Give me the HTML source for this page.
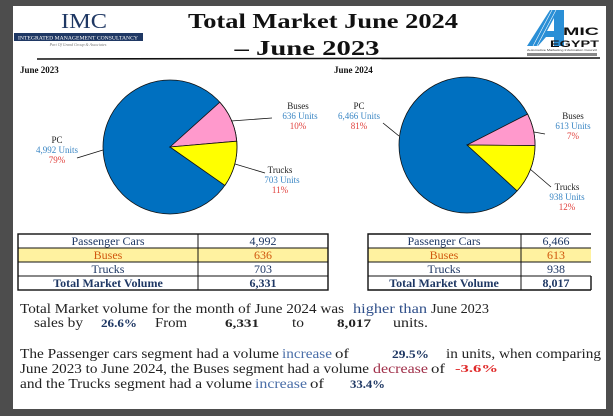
<!DOCTYPE html>
<html><head><meta charset="utf-8"><style>
html,body{margin:0;padding:0;background:#4d4d4d;}
svg{display:block;font-family:"Liberation Serif",serif;}
</style></head><body>
<svg width="613" height="416" viewBox="0 0 613 416" xmlns="http://www.w3.org/2000/svg">
<rect x="0" y="0" width="613" height="416" fill="#4d4d4d"/>
<rect x="13" y="6" width="593" height="403" fill="#fff"/>
<!-- IMC logo -->
<text x="84" y="28" text-anchor="middle" font-size="21" fill="#1f3864" textLength="46" lengthAdjust="spacingAndGlyphs">IMC</text>
<rect x="14" y="33" width="129" height="8" fill="#1f3864"/>
<text x="78" y="39.5" text-anchor="middle" font-size="5" fill="#fff" textLength="120" lengthAdjust="spacingAndGlyphs">INTEGRATED MANAGEMENT CONSULTANCY</text>
<text x="78" y="46" text-anchor="middle" font-size="4" font-style="italic" fill="#777">Part Of Grand Group &amp; Associates</text>
<!-- Title -->
<text x="323" y="28" text-anchor="middle" font-size="21" font-weight="bold" fill="#111" textLength="270" lengthAdjust="spacingAndGlyphs">Total Market June 2024</text>
<text x="307" y="55" text-anchor="middle" font-size="21" font-weight="bold" fill="#111" textLength="145" lengthAdjust="spacingAndGlyphs">– June 2023</text>
<line x1="37" y1="59" x2="600" y2="58" stroke="#111" stroke-width="1.6"/>
<!-- AMIC logo -->
<g fill="#2a8fd6">
<polygon points="550,10 564,10 564,46 554,46 554,37 546,37 538,46 527,46"/>
</g>
<polygon points="554,18 554,31 547,31" fill="#fff"/>
<g stroke="#fff" stroke-width="0.6">
<line x1="533" y1="46" x2="552" y2="10"/>
<line x1="537" y1="46" x2="556" y2="10"/>
</g>
<text x="563" y="35" font-size="11" font-weight="bold" font-family="Liberation Sans,sans-serif" fill="#111" textLength="36" lengthAdjust="spacingAndGlyphs">MIC</text>
<text x="550" y="47" font-size="9" font-weight="bold" font-family="Liberation Sans,sans-serif" fill="#111" textLength="49" lengthAdjust="spacingAndGlyphs">EGYPT</text>
<text x="527" y="51" font-size="3" font-family="Liberation Sans,sans-serif" fill="#333" textLength="70" lengthAdjust="spacingAndGlyphs">Automotive Marketing Information Council</text>
<rect x="527" y="53" width="70" height="3" fill="#888"/>
<!-- section labels -->
<text x="20" y="73" font-size="9" font-weight="bold" fill="#111">June 2023</text>
<text x="334" y="73" font-size="9" font-weight="bold" fill="#111">June 2024</text>
<!-- Pie 1 -->
<g stroke="#111" stroke-width="0.8">
<circle cx="170" cy="147" r="67" fill="#0070c0"/>
<path d="M170,147 L219.8,102.2 A67,67 0 0 1 236.7,141.2 Z" fill="#ff99cc"/>
<path d="M170,147 L236.7,141.2 A67,67 0 0 1 224.9,185.4 Z" fill="#ffff00"/>
<line x1="77" y1="158" x2="103" y2="150"/>
<line x1="231" y1="121" x2="272" y2="118"/>
<line x1="235" y1="164" x2="265" y2="173"/>
</g>
<g font-size="9" text-anchor="middle">
<text x="57" y="143" fill="#222">PC</text>
<text x="57" y="153" fill="#3a86c4">4,992 Units</text>
<text x="57" y="163" fill="#e0403c">79%</text>
<text x="298" y="109" fill="#222">Buses</text>
<text x="300" y="119" fill="#3a86c4">636  Units</text>
<text x="298" y="129" fill="#e0403c">10%</text>
<text x="280" y="173" fill="#222">Trucks</text>
<text x="282" y="183" fill="#3a86c4">703 Units</text>
<text x="280" y="193" fill="#e0403c">11%</text>
</g>
<!-- Pie 2 -->
<g stroke="#111" stroke-width="0.8">
<circle cx="467" cy="145" r="68" fill="#0070c0"/>
<path d="M467,145 L527.6,114.1 A68,68 0 0 1 535,145.6 Z" fill="#ff99cc"/>
<path d="M467,145 L535,145.6 A68,68 0 0 1 517.1,190.9 Z" fill="#ffff00"/>
<line x1="383" y1="123" x2="399" y2="136"/>
<line x1="534" y1="132" x2="545" y2="134"/>
<line x1="530" y1="169" x2="551" y2="187"/>
</g>
<g font-size="9" text-anchor="middle">
<text x="359" y="109" fill="#222">PC</text>
<text x="359" y="119" fill="#3a86c4">6,466 Units</text>
<text x="359" y="129" fill="#e0403c">81%</text>
<text x="573" y="119" fill="#222">Buses</text>
<text x="573" y="129" fill="#3a86c4">613 Units</text>
<text x="573" y="139" fill="#e0403c">7%</text>
<text x="567" y="190" fill="#222">Trucks</text>
<text x="567" y="200" fill="#3a86c4">938 Units</text>
<text x="567" y="210" fill="#e0403c">12%</text>
</g>
<!-- Table 1 -->
<rect x="18" y="248" width="310" height="14" fill="#fff2a0"/>
<g stroke="#111" stroke-width="1" fill="none">
<rect x="18" y="234" width="310" height="56" stroke-width="1.4"/>
<line x1="18" y1="248" x2="328" y2="248"/>
<line x1="18" y1="262" x2="328" y2="262"/>
<line x1="18" y1="276" x2="328" y2="276"/>
<line x1="198" y1="234" x2="198" y2="290"/>
</g>
<g font-size="12" text-anchor="middle">
<text x="108" y="245" fill="#1f3864">Passenger Cars</text>
<text x="263" y="245" fill="#1f3864">4,992</text>
<text x="108" y="259" fill="#d0580e">Buses</text>
<text x="263" y="259" fill="#d0580e">636</text>
<text x="108" y="273" fill="#1f3864">Trucks</text>
<text x="263" y="273" fill="#1f3864">703</text>
<text x="108" y="287" fill="#1f3864" font-weight="bold">Total Market Volume</text>
<text x="263" y="287" fill="#1f3864" font-weight="bold">6,331</text>
</g>
<!-- Table 2 -->
<rect x="368" y="248" width="223" height="14" fill="#fff2a0"/>
<g stroke="#111" stroke-width="1" fill="none">
<path d="M591,234 H368 V290 H591" stroke-width="1.4"/>
<line x1="591" y1="276" x2="591" y2="290" stroke-width="1.4"/>
<line x1="368" y1="248" x2="591" y2="248"/>
<line x1="368" y1="262" x2="591" y2="262"/>
<line x1="368" y1="276" x2="591" y2="276"/>
<line x1="521" y1="234" x2="521" y2="290"/>
</g>
<g font-size="12" text-anchor="middle">
<text x="444" y="245" fill="#1f3864">Passenger Cars</text>
<text x="556" y="245" fill="#1f3864">6,466</text>
<text x="444" y="259" fill="#d0580e">Buses</text>
<text x="556" y="259" fill="#d0580e">613</text>
<text x="444" y="273" fill="#1f3864">Trucks</text>
<text x="556" y="273" fill="#1f3864">938</text>
<text x="444" y="287" fill="#1f3864" font-weight="bold">Total Market Volume</text>
<text x="556" y="287" fill="#1f3864" font-weight="bold">8,017</text>
</g>
<!-- Paragraph 1 -->
<g font-size="14" fill="#222">
<text x="20" y="313" textLength="324" lengthAdjust="spacingAndGlyphs">Total Market volume for the month of June 2024 was</text>
<text x="353" y="313" fill="#2f4f8a" textLength="74" lengthAdjust="spacingAndGlyphs">higher than</text>
<text x="431" y="313" textLength="58" lengthAdjust="spacingAndGlyphs">June 2023</text>
<text x="34" y="327" textLength="49" lengthAdjust="spacingAndGlyphs">sales by</text>
<text x="101" y="327" font-size="12" font-weight="bold" fill="#1f3864" textLength="36" lengthAdjust="spacingAndGlyphs">26.6%</text>
<text x="155" y="327" textLength="32" lengthAdjust="spacingAndGlyphs">From</text>
<text x="225" y="327" font-size="12" font-weight="bold" fill="#222" textLength="34" lengthAdjust="spacingAndGlyphs">6,331</text>
<text x="292" y="327" textLength="12" lengthAdjust="spacingAndGlyphs">to</text>
<text x="337" y="327" font-size="12" font-weight="bold" fill="#222" textLength="34" lengthAdjust="spacingAndGlyphs">8,017</text>
<text x="393" y="327" textLength="35" lengthAdjust="spacingAndGlyphs">units.</text>
<!-- Paragraph 2 -->
<text x="20" y="358" textLength="259" lengthAdjust="spacingAndGlyphs">The Passenger cars segment had a volume</text>
<text x="282" y="358" fill="#4a6ea8" textLength="50" lengthAdjust="spacingAndGlyphs">increase</text>
<text x="335" y="358" textLength="14" lengthAdjust="spacingAndGlyphs">of</text>
<text x="392" y="358" font-size="12" font-weight="bold" fill="#1f3864" textLength="37" lengthAdjust="spacingAndGlyphs">29.5%</text>
<text x="446" y="358" textLength="155" lengthAdjust="spacingAndGlyphs">in units, when comparing</text>
<text x="20" y="373" textLength="349" lengthAdjust="spacingAndGlyphs">June 2023 to June 2024, the Buses segment had a volume</text>
<text x="373" y="373" fill="#a0304a" textLength="55" lengthAdjust="spacingAndGlyphs">decrease</text>
<text x="431" y="373" textLength="14" lengthAdjust="spacingAndGlyphs">of</text>
<text x="455" y="372" font-size="11" font-weight="bold" fill="#e02828" textLength="43" lengthAdjust="spacingAndGlyphs">-3.6%</text>
<text x="20" y="388" textLength="232" lengthAdjust="spacingAndGlyphs">and the Trucks segment had a volume</text>
<text x="255" y="388" fill="#4a6ea8" textLength="52" lengthAdjust="spacingAndGlyphs">increase</text>
<text x="310" y="388" textLength="14" lengthAdjust="spacingAndGlyphs">of</text>
<text x="350" y="388" font-size="12" font-weight="bold" fill="#1f3864" textLength="35" lengthAdjust="spacingAndGlyphs">33.4%</text>
</g>
</svg>
</body></html>
